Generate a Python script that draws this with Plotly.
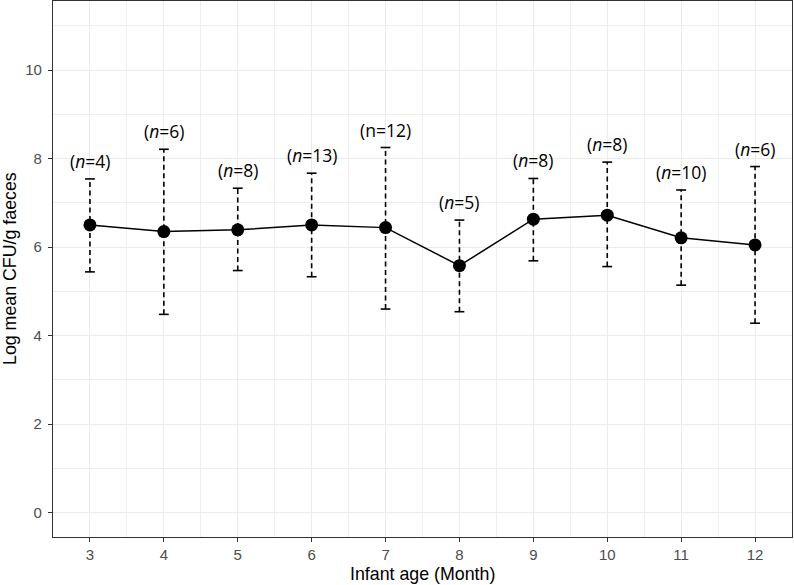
import plotly.graph_objects as go

months = [3, 4, 5, 6, 7, 8, 9, 10, 11, 12]
means = [6.50, 6.35, 6.39, 6.50, 6.44, 5.58, 6.63, 6.72, 6.21, 6.05]
upper = [7.54, 8.21, 7.33, 7.67, 8.25, 6.61, 7.55, 7.92, 7.29, 7.82]
lower = [5.44, 4.48, 5.47, 5.33, 4.60, 4.54, 5.69, 5.56, 5.14, 4.28]
n_labels = ["(<i>n</i>=4)", "(<i>n</i>=6)", "(<i>n</i>=8)", "(<i>n</i>=13)", "(n=12)",
            "(<i>n</i>=5)", "(<i>n</i>=8)", "(<i>n</i>=8)", "(<i>n</i>=10)", "(<i>n</i>=6)"]

fig = go.Figure()

# dashed error bars
seg_x, seg_y = [], []
for m, lo, hi in zip(months, lower, upper):
    seg_x += [m, m, None]
    seg_y += [lo, hi, None]
fig.add_trace(go.Scatter(x=seg_x, y=seg_y, mode="lines",
                         line=dict(color="black", width=1.6, dash="5px,3.5px"),
                         hoverinfo="skip", showlegend=False))
# caps
fig.add_trace(go.Scatter(x=months + months, y=upper + lower, mode="markers",
                         marker=dict(symbol="line-ew", size=7,
                                     line=dict(color="black", width=1.6)),
                         hoverinfo="skip", showlegend=False))
# mean line + points
fig.add_trace(go.Scatter(x=months, y=means, mode="lines+markers",
                         line=dict(color="black", width=1.5),
                         marker=dict(color="black", size=13),
                         showlegend=False))

for m, hi, t in zip(months, upper, n_labels):
    fig.add_annotation(x=m, y=hi, text=t, showarrow=False, yanchor="bottom",
                       yshift=4, font=dict(family="Open Sans", size=17.5, color="black"))

# axis titles
fig.add_annotation(x=0.5, y=0, xref="paper", yref="paper", text="Infant age (Month)",
                   showarrow=False, yanchor="middle", yshift=-37,
                   font=dict(family="Liberation Sans", size=17.8, color="black"))
fig.add_annotation(x=0, y=0.5, xref="paper", yref="paper", text="Log mean CFU/g faeces",
                   showarrow=False, textangle=-90, xanchor="center", xshift=-43,
                   font=dict(family="Liberation Sans", size=17.8, color="black"))

grid = "#ebebeb"
axis_common = dict(showline=True, mirror=True, linecolor="#333333", linewidth=1.2,
                   ticks="outside", ticklen=4, tickcolor="#333333", tickwidth=1.2,
                   showgrid=True, gridcolor=grid, gridwidth=1.1, zeroline=False,
                   automargin=False,
                   tickfont=dict(family="Liberation Sans", size=15, color="#4d4d4d"))

fig.update_xaxes(range=[2.5, 12.5], tickmode="array", tickvals=months,
                 minor=dict(dtick=0.5, tick0=2.5, showgrid=True, gridcolor="#eeeeee", gridwidth=0.8, ticks=""),
                 **axis_common)
fig.update_yaxes(range=[-0.55, 11.56], tickmode="array", tickvals=[0, 2, 4, 6, 8, 10],
                 minor=dict(dtick=1, tick0=1, showgrid=True, gridcolor="#eeeeee", gridwidth=0.8, ticks=""),
                 ticklabelstandoff=3,
                 **axis_common)

fig.update_layout(width=794, height=585, plot_bgcolor="white", paper_bgcolor="white",
                  margin=dict(l=53, r=2, t=1, b=48))

fig.write_html("out.html", config={"displayModeBar": False},
               post_script="document.body.style.margin='0px';document.body.style.overflow='hidden';")
